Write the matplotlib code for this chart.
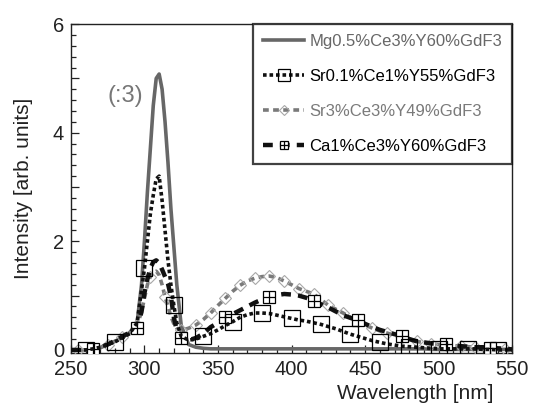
import numpy as np
import matplotlib
matplotlib.use('Agg')
import matplotlib.pyplot as plt
from matplotlib.legend_handler import HandlerTuple
from matplotlib.ticker import MultipleLocator, FuncFormatter

plt.rcParams['font.family'] = ['Liberation Sans', 'DejaVu Sans']

# wavelength grid [nm]
wavelength = [250, 255, 260, 265, 270, 275, 280, 285, 290, 295,
              298, 300, 302, 304, 306, 308, 310, 312, 314, 316, 318, 320, 322, 325,
              330, 335, 340, 345, 350, 355, 360, 365, 370, 375, 380, 385, 390, 395,
              400, 405, 410, 415, 420, 425, 430, 435, 440, 445, 450, 455, 460, 465,
              470, 475, 480, 485, 490, 495, 500, 505, 510, 515, 520, 525, 530, 535,
              540, 545, 550]

# Mg0.5%Ce3%Y60%GdF3 (divided by 3)
mg = [0.0, 0.0, 0.0, 0.01, 0.04, 0.1, 0.16, 0.23, 0.32, 0.5,
      1.2, 2.0, 2.9, 3.7, 4.5, 5.0, 5.08, 4.8, 4.2, 3.45, 2.6, 1.9, 1.2, 0.45,
      0.1, 0.05, 0.03, 0.02, 0.02, 0.02, 0.02, 0.02, 0.02, 0.02, 0.02, 0.02, 0.02, 0.02,
      0.02, 0.02, 0.02, 0.02, 0.02, 0.02, 0.02, 0.02, 0.02, 0.02, 0.02, 0.02, 0.02, 0.02,
      0.02, 0.02, 0.02, 0.02, 0.02, 0.01, 0.01, 0.01, 0.01, 0.01, 0.01, 0.01, 0.01, 0.01,
      0.01, 0.01, 0.01]

# Sr0.1%Ce1%Y55%GdF3
sr01 = [0.0, 0.0, 0.0, 0.02, 0.05, 0.1, 0.15, 0.22, 0.3, 0.5,
        1.1, 1.5, 2.0, 2.5, 2.85, 3.15, 3.2, 2.75, 2.2, 1.65, 1.2, 0.82, 0.5, 0.25,
        0.18, 0.2, 0.25, 0.3, 0.37, 0.45, 0.52, 0.6, 0.65, 0.68, 0.68, 0.67, 0.64, 0.61,
        0.58, 0.55, 0.53, 0.5, 0.47, 0.43, 0.39, 0.34, 0.29, 0.25, 0.21, 0.17, 0.14, 0.11,
        0.09, 0.07, 0.06, 0.05, 0.04, 0.03, 0.02, 0.02, 0.02, 0.02, 0.02, 0.02, 0.01, 0.01,
        0.0, 0.0, 0.0]

# Sr3%Ce3%Y49%GdF3
sr3 = [0.0, 0.0, 0.0, 0.02, 0.05, 0.1, 0.16, 0.23, 0.32, 0.45,
       0.7, 0.95, 1.2, 1.35, 1.42, 1.45, 1.38, 1.2, 0.98, 0.8, 0.62, 0.48, 0.4, 0.36,
       0.4, 0.46, 0.56, 0.68, 0.82, 0.95, 1.08, 1.19, 1.27, 1.32, 1.35, 1.36, 1.33, 1.27,
       1.2, 1.13, 1.08, 1.03, 0.93, 0.82, 0.75, 0.68, 0.6, 0.53, 0.46, 0.4, 0.35, 0.31,
       0.27, 0.24, 0.2, 0.16, 0.13, 0.11, 0.1, 0.09, 0.08, 0.07, 0.06, 0.05, 0.04, 0.04,
       0.03, 0.02, 0.01]

# Ca1%Ce3%Y60%GdF3
ca1 = [0.0, 0.0, 0.0, 0.01, 0.05, 0.1, 0.17, 0.25, 0.32, 0.41,
       0.7, 1.05, 1.3, 1.5, 1.62, 1.65, 1.6, 1.48, 1.35, 1.22, 0.98, 0.6, 0.35, 0.22,
       0.18, 0.22, 0.3, 0.42, 0.5, 0.6, 0.66, 0.73, 0.8, 0.87, 0.93, 0.98, 1.01, 1.03,
       1.02, 1.0, 0.96, 0.91, 0.84, 0.78, 0.71, 0.64, 0.59, 0.55, 0.48, 0.42, 0.37, 0.33,
       0.29, 0.26, 0.2, 0.16, 0.14, 0.12, 0.11, 0.11, 0.08, 0.07, 0.06, 0.05, 0.05, 0.04,
       0.03, 0.02, 0.01]

labels = ['Mg0.5%Ce3%Y60%GdF3', 'Sr0.1%Ce1%Y55%GdF3',
          'Sr3%Ce3%Y49%GdF3', 'Ca1%Ce3%Y60%GdF3']

# wavelengths where symbols are drawn
sr01_marks = [260, 280, 300, 320, 340, 360, 380, 400, 420, 440, 460, 480, 500, 520, 540]
sr3_marks = [255, 265, 275, 285, 295, 304, 314, 325, 335, 345, 355, 365, 375, 385, 395,
             405, 415, 425, 435, 445, 455, 465, 475, 485, 495, 505, 515, 525, 535, 545]
ca1_marks = [265, 295, 325, 355, 385, 415, 445, 475, 505, 535]

wl = np.array(wavelength)


def mark_idx(marks):
        return [int(np.where(wl == m)[0][0]) for m in marks]


fig = plt.figure(figsize=(5.33, 4.08), dpi=100)
ax = fig.add_axes([0.133, 0.135, 0.828, 0.806])

l_mg, = ax.plot(wl, mg, color='#676767', lw=2.6, zorder=2)
l_sr3, = ax.plot(wl, sr3, color='#7a7a7a', lw=2.6, ls=(0, (1.6, 1.2)),
                 marker='D', markevery=mark_idx(sr3_marks), ms=6.5,
                 mfc='none', mec='#a8a8a8', mew=0.8, zorder=3)
l_ca1, = ax.plot(wl, ca1, color='#111111', lw=3.2, ls=(0, (2.2, 1.6)),
                 marker='s', markevery=mark_idx(ca1_marks), ms=8,
                 mfc='white', mec='black', mew=0.9, zorder=4)
p_ca1, = ax.plot(wl, ca1, ls='none', marker='+', markevery=mark_idx(ca1_marks),
                 ms=8, mec='black', mew=0.9, zorder=5)
l_sr01, = ax.plot(wl, sr01, color='#111111', lw=2.6, ls=(0, (1, 0.8)),
                  marker='s', markevery=mark_idx(sr01_marks), ms=11,
                  mfc='none', mec='black', mew=0.9, zorder=6)

ax.text(287, 4.67, '(:3)', color='#777777', fontsize=17, ha='center', va='center')

ax.set_xlim(250, 550)
ax.set_ylim(-0.055, 6)
ax.xaxis.set_major_locator(MultipleLocator(50))
ax.xaxis.set_minor_locator(MultipleLocator(10))
ax.yaxis.set_major_locator(MultipleLocator(1))
ax.yaxis.set_minor_locator(MultipleLocator(0.2))
ax.yaxis.set_major_formatter(FuncFormatter(lambda v, p: '%d' % v if round(v) % 2 == 0 else ''))
ax.tick_params(which='both', direction='in', top=False, right=False, width=0.9,
               labelsize=14.5, colors='#222222')
ax.tick_params(which='major', length=6, pad=5)
ax.tick_params(which='minor', length=3.5)
for s in ax.spines.values():
        s.set_linewidth(1.0)
        s.set_color('#222222')

ax.set_xlabel('Wavelength [nm]', fontsize=15, color='#222222', loc='right')
ax.xaxis.set_label_coords(0.957, -0.095)
ax.set_ylabel('Intensity [arb. units]', fontsize=15, color='#222222')
ax.yaxis.set_label_coords(-0.085, 0.5)

leg = ax.legend([l_mg, l_sr01, l_sr3, (l_ca1, p_ca1)], labels,
                handler_map={tuple: HandlerTuple(ndivide=1, pad=0)},
                loc='upper right', borderaxespad=0, fontsize=12, numpoints=1,
                handlelength=2.5, handletextpad=0.3, labelspacing=1.2,
                borderpad=0.6, fancybox=False, markerscale=0.75,
                labelcolor=['#676767', 'black', '#7a7a7a', 'black'])
leg.get_frame().set_edgecolor('#111111')
leg.get_frame().set_linewidth(1.6)

fig.savefig('out.png', dpi=100)
